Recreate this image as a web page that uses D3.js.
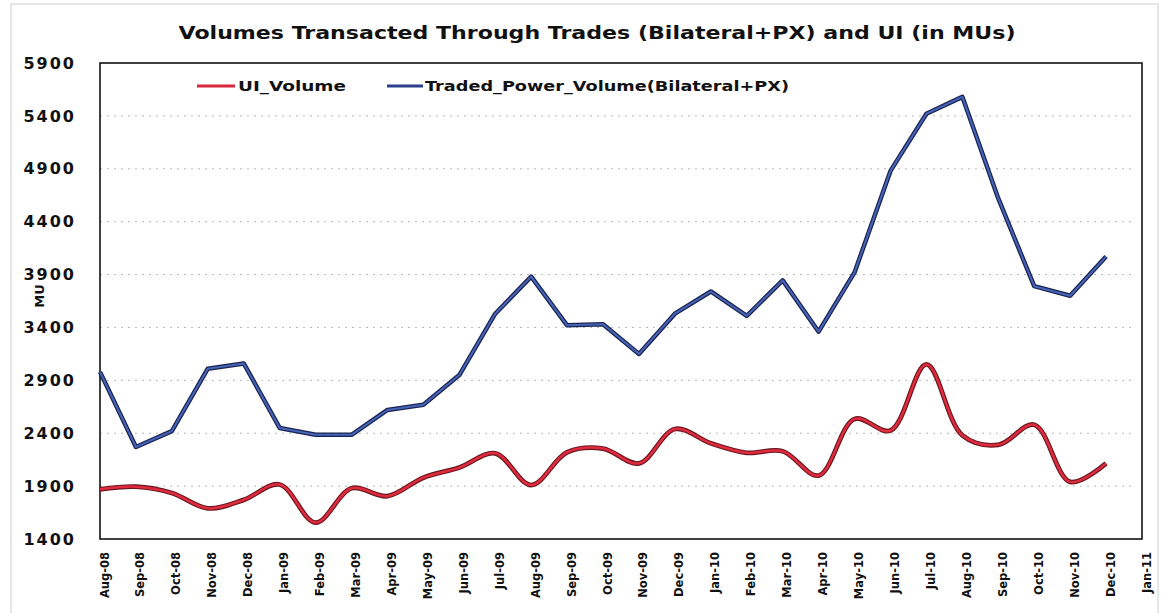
<!DOCTYPE html>
<html>
<head>
<meta charset="utf-8">
<script src="https://cdn.jsdelivr.net/npm/d3@7"></script>
<style>
  body { margin: 0; background: #fff; }
  text { font-family: "DejaVu Sans", Verdana, sans-serif; font-weight: bold; fill: #111; }
</style>
</head>
<body>
<script>
// months shown on the axis (last one has no data)
const mois = ["Aug-08", "Sep-08", "Oct-08", "Nov-08", "Dec-08", "Jan-09", "Feb-09", "Mar-09",
  "Apr-09", "May-09", "Jun-09", "Jul-09", "Aug-09", "Sep-09", "Oct-09", "Nov-09", "Dec-09",
  "Jan-10", "Feb-10", "Mar-10", "Apr-10", "May-10", "Jun-10", "Jul-10", "Aug-10", "Sep-10",
  "Oct-10", "Nov-10", "Dec-10", "Jan-11"];

const uiVolume = [1870, 1895, 1835, 1690, 1770, 1915, 1555, 1880, 1805, 1980, 2075, 2210, 1910,
  2220, 2255, 2115, 2440, 2305, 2215, 2230, 2000, 2535, 2425, 3050, 2380, 2290, 2480, 1940, 2115];

const tradedVolume = [2980, 2270, 2420, 3010, 3060, 2450, 2385, 2385, 2620, 2670, 2950, 3530, 3880,
  3420, 3430, 3150, 3530, 3740, 3510, 3845, 3360, 3920, 4880, 5420, 5580, 4620, 3790, 3700, 4070];

const yTicks = [1400, 1900, 2400, 2900, 3400, 3900, 4400, 4900, 5400, 5900];

const largeur = 1166, hauteur = 613;
const gauche = 100, droite = 1142, haut = 63, bas = 539;

const svg = d3.select("body").append("svg")
  .attr("width", largeur)
  .attr("height", hauteur);

// faint border of the photographed page
svg.append("rect")
  .attr("x", 11).attr("y", 4)
  .attr("width", 1147).attr("height", 640)
  .attr("fill", "none")
  .attr("stroke", "#d4d4d4")
  .attr("stroke-width", 1.2);

const x = d3.scalePoint().domain(mois).range([gauche, droite]);
const y = d3.scaleLinear().domain([1400, 5900]).range([bas, haut]);

// titre
svg.append("text")
  .attr("x", 597).attr("y", 39)
  .attr("text-anchor", "middle")
  .attr("textLength", 837)
  .attr("lengthAdjust", "spacingAndGlyphs")
  .style("font-size", "17px")
  .text("Volumes Transacted Through Trades (Bilateral+PX) and UI (in MUs)");

// gridlines
svg.append("g")
  .selectAll("line")
  .data(yTicks.filter(d => d > 1400 && d < 5900))
  .join("line")
  .attr("x1", gauche).attr("x2", droite - 10)
  .attr("y1", d => y(d)).attr("y2", d => y(d))
  .attr("stroke", "#b8b8b8")
  .attr("stroke-width", 1)
  .attr("stroke-dasharray", "2,5");

// y axis labels
const axeY = d3.axisLeft(y).tickValues(yTicks).tickFormat(d3.format("d")).tickSize(0).tickPadding(24);
svg.append("g")
  .attr("transform", `translate(${gauche},0)`)
  .call(axeY)
  .call(g => g.select(".domain").remove())
  .selectAll("text")
  .style("font-size", "16px")
  .style("letter-spacing", "2px")
  .attr("font-family", null);

// x axis labels
const axeX = d3.axisBottom(x).tickSize(0).tickPadding(0);
svg.append("g")
  .attr("transform", `translate(0,${bas})`)
  .call(axeX)
  .call(g => g.select(".domain").remove())
  .selectAll("text")
  .attr("font-family", null)
  .style("font-size", "11.5px")
  .attr("transform", "rotate(-90)")
  .attr("text-anchor", "end")
  .attr("x", -13)
  .attr("y", 4)
  .attr("dy", "0.35em");

// titre axe Y
svg.append("text")
  .attr("transform", "translate(44,296) rotate(-90)")
  .attr("text-anchor", "middle")
  .style("font-size", "13px")
  .text("MU");

// plot frame
svg.append("rect")
  .attr("x", gauche).attr("y", haut)
  .attr("width", droite - gauche).attr("height", bas - haut)
  .attr("fill", "none")
  .attr("stroke", "#111")
  .attr("stroke-width", 1.6);

// lignes
const ligneBleue = d3.line()
  .x((d, i) => x(mois[i]))
  .y(d => y(d));

const ligneRouge = d3.line()
  .x((d, i) => x(mois[i]))
  .y(d => y(d))
  .curve(d3.curveCatmullRom.alpha(0.5));

svg.append("path").datum(tradedVolume)
  .attr("d", ligneBleue)
  .attr("fill", "none").attr("stroke", "#1b2350")
  .attr("stroke-width", 4.5).attr("stroke-linejoin", "round");
svg.append("path").datum(tradedVolume)
  .attr("d", ligneBleue)
  .attr("fill", "none").attr("stroke", "#4664b8")
  .attr("stroke-width", 2).attr("stroke-linejoin", "round");

svg.append("path").datum(uiVolume)
  .attr("d", ligneRouge)
  .attr("fill", "none").attr("stroke", "#6a1820")
  .attr("stroke-width", 4.8);
svg.append("path").datum(uiVolume)
  .attr("d", ligneRouge)
  .attr("fill", "none").attr("stroke", "#e02a3e")
  .attr("stroke-width", 2.5);

// legende
svg.append("line")
  .attr("x1", 197).attr("x2", 235).attr("y1", 86).attr("y2", 86)
  .attr("stroke", "#d8283b").attr("stroke-width", 3);
svg.append("text")
  .attr("x", 238).attr("y", 91)
  .attr("textLength", 108)
  .attr("lengthAdjust", "spacingAndGlyphs")
  .style("font-size", "14px")
  .text("UI_Volume");

svg.append("line")
  .attr("x1", 387).attr("x2", 423).attr("y1", 86).attr("y2", 86)
  .attr("stroke", "#2c3f8c").attr("stroke-width", 3);
svg.append("text")
  .attr("x", 425).attr("y", 91)
  .attr("textLength", 364)
  .attr("lengthAdjust", "spacingAndGlyphs")
  .style("font-size", "14px")
  .text("Traded_Power_Volume(Bilateral+PX)");
</script>
</body>
</html>
